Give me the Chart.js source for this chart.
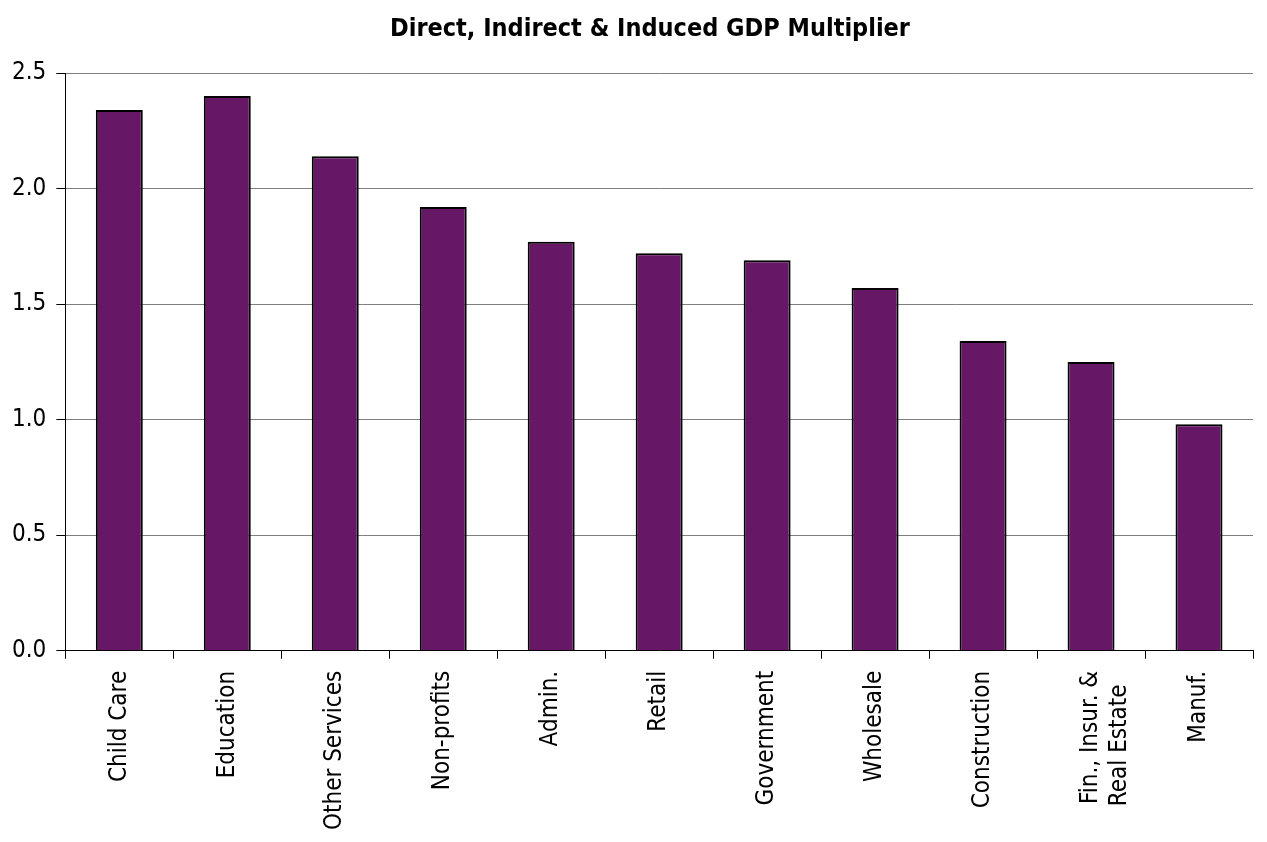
<!DOCTYPE html>
<html>
<head>
<meta charset="utf-8">
<script src="https://cdn.jsdelivr.net/npm/chart.js@4/dist/chart.umd.min.js"></script>
<style>
    html, body { margin: 0; padding: 0; background: #fff; }
    #wrap { width: 1267px; height: 842px; }
</style>
</head>
<body>
<div id="wrap"><canvas id="gdpChart" width="1267" height="842"></canvas></div>
<script>
    const categories = ['Child Care', 'Education', 'Other Services', 'Non-profits', 'Admin.', 'Retail',
        'Government', 'Wholesale', 'Construction', ['Fin., Insur. &', 'Real Estate  '], 'Manuf.'];
    const multipliers = [2.34, 2.40, 2.14, 1.92, 1.77, 1.72, 1.69, 1.57, 1.34, 1.25, 0.98];
    const yTicks = [0, 0.5, 1.0, 1.5, 2.0, 2.5];

    const fontFamily = '"Liberation Sans Narrow", "DejaVu Sans Condensed", "Roboto Condensed", sans-serif';

    const ctx = document.getElementById('gdpChart').getContext('2d');
    new Chart(ctx, {
        type: 'bar',
        data: {
            labels: categories,
            datasets: [{
                data: multipliers,
                backgroundColor: '#661866',
                borderColor: '#000000',
                borderWidth: 2,
                categoryPercentage: 1.0,
                barPercentage: 0.435
            }]
        },
        options: {
            responsive: false,
            animation: false,
            layout: { padding: { top: 10, right: 14, left: 2, bottom: 0 } },
            plugins: {
                legend: { display: false },
                tooltip: { enabled: false },
                title: {
                    display: true,
                    // leading em spaces push the centred title over the plot area
                    text: '\u2003\u2003Direct, Indirect & Induced GDP Multiplier',
                    color: '#000',
                    font: { family: fontFamily, size: 25, weight: 'bold' },
                    padding: { top: 4, bottom: 29 }
                }
            },
            scales: {
                x: {
                    grid: {
                        offset: true,
                        drawOnChartArea: false,
                        tickLength: 8,
                        color: '#000'
                    },
                    border: { color: '#000', width: 1 },
                    ticks: {
                        color: '#000',
                        minRotation: 90,
                        maxRotation: 90,
                        padding: 12,
                        font: { family: fontFamily, size: 24 }
                    }
                },
                y: {
                    min: 0,
                    max: 2.5,
                    afterBuildTicks: axis => {
                        axis.ticks = yTicks.map(v => ({ value: v }));
                    },
                    grid: {
                        color: '#7f7f7f',
                        tickColor: '#000',
                        tickLength: 9,
                        lineWidth: 1
                    },
                    border: { color: '#000', width: 1 },
                    ticks: {
                        color: '#000',
                        padding: 10,
                        font: { family: fontFamily, size: 24 },
                        callback: v => Number(v).toFixed(1)
                    }
                }
            }
        }
    });
</script>
</body>
</html>
